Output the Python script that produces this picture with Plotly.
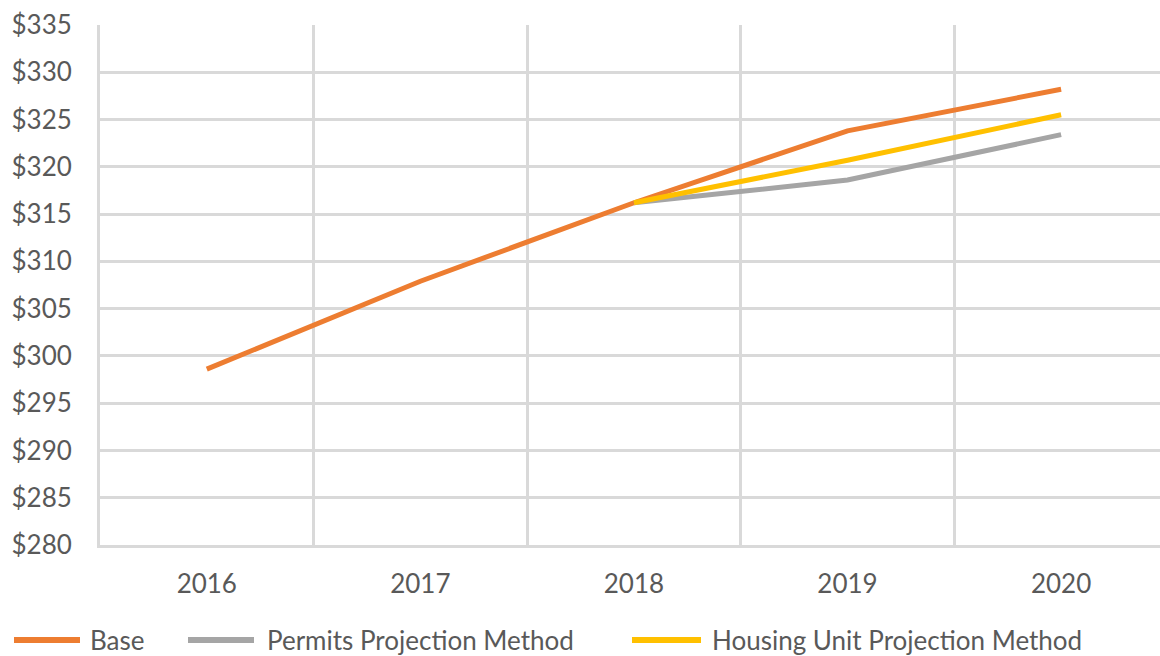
import plotly.graph_objects as go

years = ["2016", "2017", "2018", "2019", "2020"]
base = [298.6, 307.9, 316.2, 323.8, 328.2]
permits = [None, None, 316.2, 318.6, 323.4]
housing = [None, None, 316.2, 320.7, 325.5]
y_ticks = list(range(280, 336, 5))
y_labels = [f"${v}" for v in y_ticks]

series = [
    ("Base", base, "#ED7D31"),
    ("Permits Projection Method", permits, "#A5A5A5"),
    ("Housing Unit Projection Method", housing, "#FFC000"),
]

fig = go.Figure()
for name, vals, color in series:
    fig.add_trace(go.Scatter(x=years, y=vals, name=name, mode="lines",
                             line=dict(color=color, width=5), showlegend=False))

grid = "#D9D9D9"
font_color = "#595959"
W, H = 1160, 656
L, R, T, B = 100, 0, 25, 111
pw, ph = W - L - R, H - T - B

def px_x(x):
    return (x - L) / pw

def px_y(y):
    return (H - B - y) / ph

# manual legend (pixel layout of the reference legend)
legend_items = [(14, 80, 88), (188, 254, 265), (632, 701, 710)]
leg_y = 640
for (x0, x1, xt), (name, _, color) in zip(legend_items, series):
    fig.add_shape(type="line", xref="paper", yref="paper",
                  x0=px_x(x0), x1=px_x(x1), y0=px_y(leg_y), y1=px_y(leg_y),
                  line=dict(color=color, width=6))
    fig.add_annotation(xref="paper", yref="paper", x=px_x(xt), y=px_y(leg_y),
                       xanchor="left", yanchor="middle", text=name, showarrow=False,
                       font=dict(size=26, color=font_color, family="Lato"))

fig.update_layout(
    width=W, height=H,
    margin=dict(l=L, r=R, t=T, b=B, autoexpand=False),
    paper_bgcolor="white", plot_bgcolor="white",
    font=dict(family="Lato", color=font_color, size=26),
    showlegend=False,
    hovermode=False,
    xaxis=dict(type="category", range=[-0.5, 4.463], tickson="boundaries",
               showgrid=True, gridcolor=grid, gridwidth=3,
               showline=True, linecolor=grid, linewidth=3,
               ticks="", tickfont=dict(size=26, color=font_color),
               ticklabelstandoff=14, zeroline=False, automargin=False),
    yaxis=dict(range=[280, 335], tickvals=y_ticks, ticktext=y_labels,
               showgrid=True, gridcolor=grid, gridwidth=3,
               showline=True, linecolor=grid, linewidth=3,
               ticks="", tickfont=dict(size=26, color=font_color),
               ticklabelstandoff=20, zeroline=False, automargin=False),
)

fig.write_html("out.html",
               config={"displayModeBar": False},
               post_script="document.body.style.margin='0px';document.body.style.overflow='hidden';")
